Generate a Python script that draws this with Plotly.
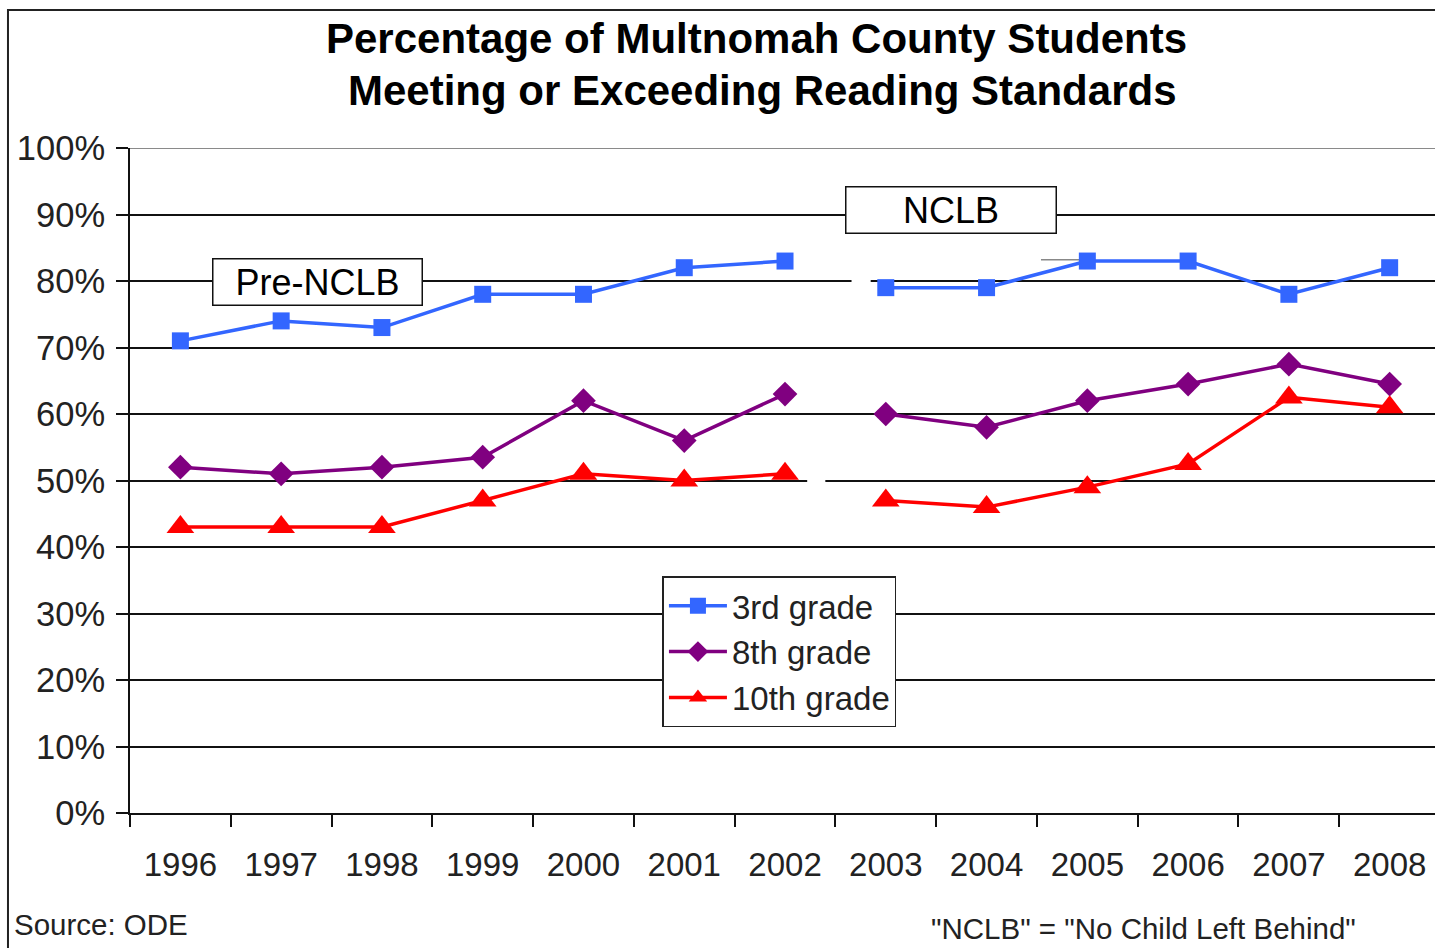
import plotly.graph_objects as go

years = ["1996", "1997", "1998", "1999", "2000", "2001", "2002",
         "2003", "2004", "2005", "2006", "2007", "2008"]
grade3 = [71, 74, 73, 78, 78, 82, 83, 79, 79, 83, 83, 78, 82]
grade8 = [52, 51, 52, 53.5, 62, 56, 63, 60, 58, 62, 64.5, 67.5, 64.5]
grade10 = [43, 43, 43, 47, 51, 50, 51, 47, 46, 49, 52.5, 62.5, 61]
y_ticks = list(range(0, 101, 10))
split = 7  # first NCLB year index (2003)

series = [
    ("3rd grade", grade3, "#3366FF", "square", 17),
    ("8th grade", grade8, "#800080", "diamond", 19),
    ("10th grade", grade10, "#FF0000", "triangle-up", 24),
]

FONT = "Arial, Liberation Sans, sans-serif"
fig = go.Figure()
for name, vals, color, sym, size in series:
    for part, (xs, ys) in enumerate([(years[:split], vals[:split]),
                                     (years[split:], vals[split:])]):
        fig.add_trace(go.Scatter(
            x=xs, y=ys, mode="lines+markers", name=name,
            legendgroup=name, showlegend=(part == 0),
            line=dict(color=color, width=3.5),
            marker=dict(symbol=sym, size=size, color=color),
        ))

fig.update_layout(
    width=1435, height=948,
    margin=dict(l=130, r=0, t=148, b=135, autoexpand=False),
    paper_bgcolor="white", plot_bgcolor="white",
    font=dict(family=FONT, color="#222222"),
    showlegend=True,
    legend=dict(x=0.408, y=0.356, xanchor="left", yanchor="top",
                bgcolor="white", bordercolor="#222222", borderwidth=1.5,
                font=dict(size=33, family=FONT, color="#222222"),
                itemwidth=58, tracegroupgap=0),
)
fig.update_xaxes(
    type="category", categoryorder="array", categoryarray=years,
    range=[-0.5, 12.45], tickson="boundaries", automargin=False,
    ticks="outside", ticklen=12, tickwidth=1.5, tickcolor="#111111",
    showline=True, linecolor="#111111", linewidth=2,
    showgrid=False, zeroline=False,
    tickfont=dict(size=33, family=FONT, color="#222222"),
    ticklabelstandoff=21,
)
fig.update_yaxes(
    range=[0, 100], tickmode="array", tickvals=y_ticks,
    ticktext=[f"{v}%" for v in y_ticks], automargin=False,
    ticks="outside", ticklen=12, tickwidth=1.5, tickcolor="#111111",
    showline=True, linecolor="#111111", linewidth=2,
    showgrid=True, gridcolor="#111111", gridwidth=1.5, zeroline=False,
    tickfont=dict(size=34.5, family=FONT, color="#222222"),
    ticklabelstandoff=4,
)

# outer chart border (top and left visible)
fig.add_shape(type="rect", xref="paper", yref="paper",
              x0=-0.0935, x1=1.2, y0=-0.5, y1=1.2075,
              line=dict(color="#222222", width=2), layer="below")

# top (100%) gridline is grey in the original
fig.add_shape(type="line", xref="paper", yref="y", x0=0, x1=1, y0=100, y1=100,
              line=dict(color="#8a8a8a", width=2), layer="below")

# small white breaks in the gridlines near the NCLB gap
fig.add_shape(type="line", xref="x", yref="y", x0=6.66, x1=6.85, y0=80, y1=80,
              line=dict(color="white", width=4), layer="above")
fig.add_shape(type="line", xref="x", yref="y", x0=6.22, x1=6.40, y0=50, y1=50,
              line=dict(color="white", width=4), layer="above")
fig.add_shape(type="line", xref="x", yref="y", x0=8.54, x1=9.05, y0=83.2, y1=83.2,
              line=dict(color="#888888", width=1.5), layer="below")

box_ann = dict(xref="paper", yref="paper", showarrow=False,
               xanchor="center", yanchor="middle",
               bgcolor="white", bordercolor="#111111", borderwidth=1.5,
               borderpad=1, font=dict(size=36, family=FONT, color="#000000"))
fig.add_annotation(text="Pre-NCLB", x=0.144, y=0.799, width=206, height=43, **box_ann)
fig.add_annotation(text="NCLB", x=0.6295, y=0.9075, width=207, height=43, **box_ann)

title_font = dict(size=42, family=FONT, color="#000000")
fig.add_annotation(text="<b>Percentage of Multnomah County Students</b>",
                   xref="paper", yref="paper", x=0.48, y=1.164,
                   xanchor="center", yanchor="middle", showarrow=False, font=title_font)
fig.add_annotation(text="<b>Meeting or Exceeding Reading Standards</b>",
                   xref="paper", yref="paper", x=0.485, y=1.087,
                   xanchor="center", yanchor="middle", showarrow=False, font=title_font)

note_font = dict(size=29.5, family=FONT, color="#222222")
fig.add_annotation(text="Source: ODE", xref="paper", yref="paper",
                   x=-0.0904, y=-0.1684, xanchor="left", yanchor="middle",
                   showarrow=False, font=note_font)
fig.add_annotation(text='"NCLB" = "No Child Left Behind"', xref="paper", yref="paper",
                   x=0.7766, y=-0.173, xanchor="center", yanchor="middle",
                   showarrow=False, font=note_font)

fig.write_html("out.html", config={"displayModeBar": False},
               post_script="document.body.style.margin='0';document.body.style.overflow='hidden';")
